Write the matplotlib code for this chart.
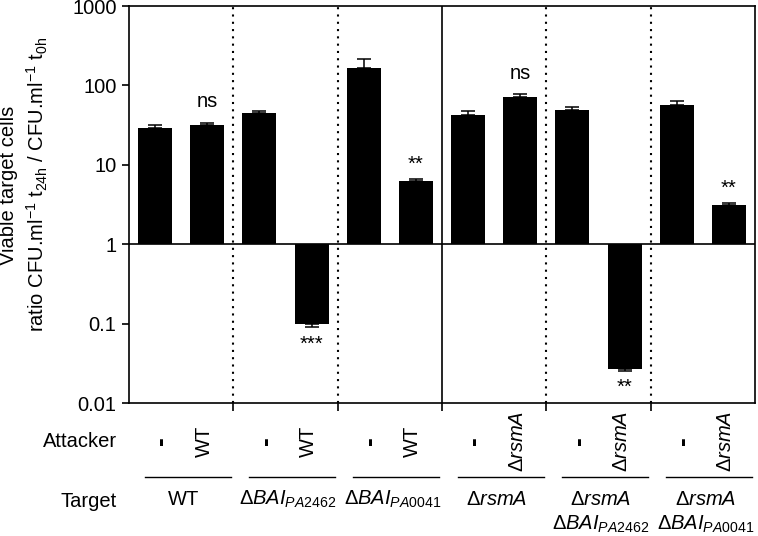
import numpy as np
import matplotlib.pyplot as plt
from matplotlib.ticker import FixedLocator, FixedFormatter, NullLocator

plt.rcParams['font.family'] = ['Liberation Sans', 'DejaVu Sans']
plt.rcParams['font.size'] = 14.5
plt.rcParams['mathtext.fontset'] = 'custom'
plt.rcParams['mathtext.rm'] = 'Liberation Sans'
plt.rcParams['mathtext.it'] = 'Liberation Sans:italic'
plt.rcParams['mathtext.bf'] = 'Liberation Sans:bold'

# data
rsmA = r'$\Delta\mathit{rsmA}$'
bai2462 = r'$\Delta\mathit{BAI}_{\mathit{PA2462}}$'
bai0041 = r'$\Delta\mathit{BAI}_{\mathit{PA0041}}$'
attackers = ['-', 'WT', '-', 'WT', '-', 'WT', '-', rsmA, '-', rsmA, '-', rsmA]
targets_line1 = ['WT', bai2462, bai0041, rsmA, rsmA, rsmA]
targets_line2 = ['', '', '', '', bai2462, bai0041]
ratio = np.array([28.8, 31.5, 45.5, 0.098, 168, 6.2, 42, 70.7, 48.4, 0.0268, 56, 3.09])
err = np.array([2.7, 2.5, 1.5, 0.008, 44, 0.4, 5, 6.3, 4.6, 0.0015, 8, 0.19])
signif = ['', 'ns', '', '***', '', '**', '', 'ns', '', '**', '', '**']
yticks = [0.01, 0.1, 1, 10, 100, 1000]
ytick_labels = ['0.01', '0.1', '1', '10', '100', '1000']

x = np.arange(len(ratio))
fig = plt.figure(figsize=(7.58, 5.36), dpi=100)
ax = fig.add_axes([129 / 758, 1 - 403 / 536, 626 / 758, 397 / 536])

ax.bar(x, ratio - 1, bottom=1, width=0.65, color='black', zorder=2)
up = np.where(ratio > 1, err, 0)
lo = np.where(ratio < 1, err, 0)
ax.errorbar(x, ratio, yerr=[lo, up], fmt='none', ecolor='black',
            elinewidth=1.1, capsize=5, capthick=1.1, zorder=3)

ax.set_yscale('log')
ax.set_ylim(0.01, 1000)
ax.set_xlim(-0.5, 11.5)
ax.yaxis.set_major_locator(FixedLocator(yticks))
ax.yaxis.set_major_formatter(FixedFormatter(ytick_labels))
ax.yaxis.set_minor_locator(NullLocator())
ax.set_xticks([2 * g - 0.5 for g in range(1, 6)])
ax.tick_params(axis='x', direction='out', length=6, width=1.2, labelbottom=False)
ax.tick_params(axis='y', direction='out', length=5, width=1.2, pad=4)
for sp in ax.spines.values():
    sp.set_linewidth(1.2)

ax.axhline(1, color='black', lw=1.2, zorder=4)
for g in range(1, 6):
    if g == 3:
        ax.axvline(2 * g - 0.5, color='black', lw=1.2, zorder=1)
    else:
        ax.axvline(2 * g - 0.5, color='black', lw=1.5, ls=(0, (1, 2.5)), zorder=1)

# significance marks
for i, s in enumerate(signif):
    if not s:
        continue
    if ratio[i] > 1:
        yv = ratio[i] + err[i]
        off = 11 if s == 'ns' else 6.5
    else:
        yv = ratio[i] - err[i]
        off = -16
    ax.annotate(s, (x[i], yv), xytext=(0, off), textcoords='offset points',
                ha='center', va='baseline')

# attacker / target annotations under the axis
tr = ax.get_xaxis_transform()
for i, lab in enumerate(attackers):
    if lab == '-':
        ax.text(x[i] + 0.12, -0.096, lab, transform=tr, rotation=90,
                ha='center', va='center', fontweight='bold', fontsize=19)
    else:
        ax.text(x[i] - 0.06, -0.096, lab, transform=tr, rotation=90,
                ha='center', va='center')

for g in range(6):
    g0 = 2 * g - 0.5
    ax.plot([g0 + 0.3, g0 + 1.95], [-0.186, -0.186], transform=tr,
            color='black', lw=1.0, clip_on=False)
    ax.text(g0 + 1.05, -0.257, targets_line1[g], transform=tr,
            ha='center', va='baseline')
    if targets_line2[g]:
        ax.text(g0 + 1.05, -0.320, targets_line2[g], transform=tr,
                ha='center', va='baseline')

ax.text(-0.019, -0.111, 'Attacker', transform=ax.transAxes, ha='right', va='baseline')
ax.text(-0.019, -0.262, 'Target', transform=ax.transAxes, ha='right', va='baseline')

fig.text(9 / 758, 0.655, 'Viable target cells', rotation=90, ha='center', va='center')
fig.text(37 / 758, 0.655,
         r'ratio CFU.ml$^{-1}$ t$_{\mathrm{24h}}$ / CFU.ml$^{-1}$ t$_{\mathrm{0h}}$',
         rotation=90, ha='center', va='center')

fig.savefig('out.png', dpi=100)
